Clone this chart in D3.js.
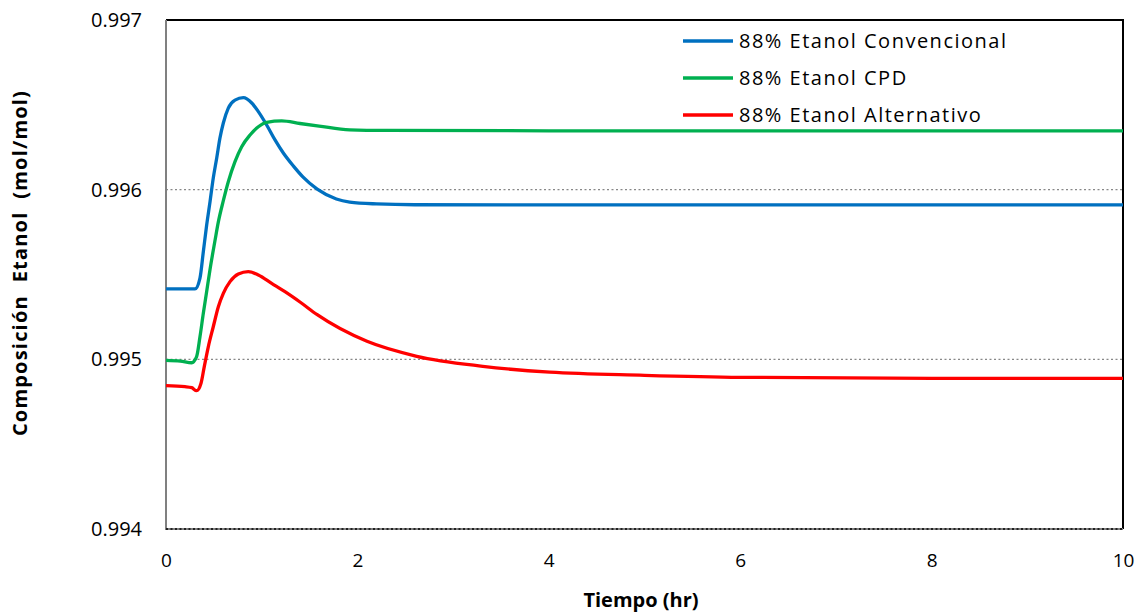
<!DOCTYPE html>
<html><head><meta charset="utf-8">
<script src="https://cdn.jsdelivr.net/npm/d3@7"></script>
<style>body{margin:0;background:#fff;font-family:"Open Sans",sans-serif;}</style>
</head><body><svg id="c" width="1148" height="613"></svg>
<script>
const seriesNames = ["88% Etanol Convencional", "88% Etanol CPD", "88% Etanol Alternativo"];
const seriesColors = ["#0070C0", "#00B050", "#FF0000"];
const convT = [0,0.2,0.303,0.355,0.39,0.425,0.46,0.494,0.53,0.564,0.599,0.651,0.721,0.808,0.896,0.965,1.052,1.139,1.226,1.33,1.43,1.58,1.78,1.92,2.2,2.6,4,6,8,10];
const convV = [0.995415,0.995415,0.995415,0.995479,0.995634,0.995792,0.995929,0.996069,0.996187,0.996305,0.996393,0.996481,0.996528,0.996542,0.996511,0.996460,0.996381,0.996293,0.996216,0.996140,0.996075,0.996003,0.995945,0.995927,0.995916,0.995911,0.995910,0.995910,0.995910,0.995910];
const cpdT = [0,0.15,0.268,0.32,0.355,0.39,0.425,0.46,0.512,0.547,0.599,0.651,0.721,0.791,0.878,0.965,1.052,1.209,1.4,1.6,1.92,2.3,4,6,8,10];
const cpdV = [0.994994,0.994990,0.994980,0.995016,0.995133,0.995271,0.995400,0.995530,0.995700,0.995810,0.995935,0.996047,0.996165,0.996253,0.996322,0.996371,0.996397,0.996405,0.996390,0.996375,0.996353,0.996349,0.996347,0.996347,0.996347,0.996347];
const altT = [0,0.198,0.268,0.32,0.366,0.40,0.442,0.494,0.547,0.599,0.669,0.756,0.86,0.965,1.104,1.243,1.40,1.58,2.1,2.62,3.31,4.01,5,6,8,10];
const altV = [0.994845,0.994839,0.994833,0.994815,0.994859,0.994957,0.995074,0.995192,0.995310,0.995389,0.995458,0.995503,0.995517,0.995497,0.995448,0.995399,0.995338,0.995263,0.995106,0.995018,0.994959,0.994924,0.994906,0.994894,0.994888,0.994888];
const xTicks = [0,2,4,6,8,10];
const yTicks = [0.994,0.995,0.996,0.997];
const xTitle = "Tiempo (hr)";
const yTitle = "Composición  Etanol  (mol/mol)";

const svg = d3.select("#c");
const L=166, R=1123, T=20, B=529;
const x = d3.scaleLinear().domain([0,10]).range([L,R]);
const y = d3.scaleLinear().domain([0.994,0.997]).range([B,T]);

// gridlines
svg.append("g").selectAll("line").data(yTicks.filter(v=>v<0.997)).join("line")
  .attr("x1",L).attr("x2",R).attr("y1",d=>y(d)).attr("y2",d=>y(d))
  .attr("stroke","#888").attr("stroke-width",1.3).attr("stroke-dasharray","2,2.5");

// frame top/right
svg.append("path").attr("d",`M${L},${T}H${R}V${B}`).attr("fill","none").attr("stroke","#000").attr("stroke-width",2);
// axes
svg.append("line").attr("x1",L).attr("x2",L).attr("y1",T).attr("y2",B+1).attr("stroke","#808080").attr("stroke-width",2);
svg.append("line").attr("x1",L).attr("x2",R).attr("y1",B).attr("y2",B).attr("stroke","#808080").attr("stroke-width",2);
svg.append("line").attr("x1",L).attr("x2",R).attr("y1",B).attr("y2",B).attr("stroke","#000").attr("stroke-width",1.3).attr("stroke-dasharray","2,2.5");

const ax = svg.append("g").attr("transform",`translate(0,${B})`)
  .call(d3.axisBottom(x).tickValues(xTicks).tickSize(0).tickPadding(21).tickFormat(d3.format("d")));
ax.select(".domain").remove();
ax.selectAll("text").attr("font-family","Open Sans").attr("font-size",19).attr("fill","#000").attr("dy","0.32em").attr("y",32);
const ay = svg.append("g").attr("transform",`translate(${L},0)`)
  .call(d3.axisLeft(y).tickValues(yTicks).tickSize(0).tickPadding(24).tickFormat(d3.format(".3f")));
ay.select(".domain").remove();
ay.selectAll("text").attr("font-family","Open Sans").attr("font-size",20).attr("fill","#000");

// series
const data = [[convT,convV],[cpdT,cpdV],[altT,altV]];
const line = d3.line().x(d=>x(d[0])).y(d=>y(d[1])).curve(d3.curveMonotoneX);
data.forEach((s,i)=>{
  const pts = s[0].map((t,j)=>[t,s[1][j]]);
  svg.append("path").datum(pts).attr("d",line).attr("fill","none")
    .attr("stroke",seriesColors[i]).attr("stroke-width",3.3).attr("stroke-linejoin","round");
});

// legend
const lg = svg.append("g");
seriesNames.forEach((n,i)=>{
  const yy = 41 + i*37;
  lg.append("line").attr("x1",683).attr("x2",733).attr("y1",yy).attr("y2",yy)
    .attr("stroke",seriesColors[i]).attr("stroke-width",3.3);
  lg.append("text").attr("x",739).attr("y",yy).attr("dy","0.36em").text(n)
    .attr("font-family","Open Sans").attr("font-size",20).attr("letter-spacing","1.5px").attr("fill","#000");
});

// titles
svg.append("text").attr("x",641).attr("y",600).attr("dy","0.36em").attr("text-anchor","middle")
  .attr("font-family","Open Sans").attr("font-weight","bold").attr("font-size",20).text(xTitle);
svg.append("text").attr("transform","translate(20,263) rotate(-90)").attr("dy","0.36em").attr("text-anchor","middle")
  .attr("font-family","Open Sans").attr("font-weight","bold").attr("font-size",20).attr("letter-spacing","1.2px").style("white-space","pre").text(yTitle);
</script></body></html>
